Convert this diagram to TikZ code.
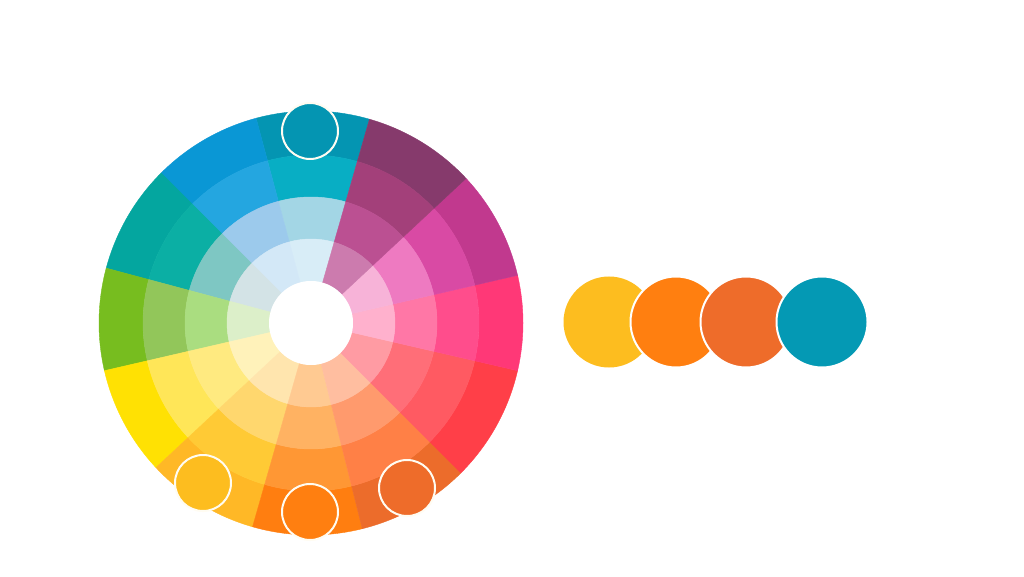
\documentclass[tikz,border=0pt]{standalone}
\usepackage{tikz}
\definecolor{aA1}{HTML}{0495B2}\definecolor{aA2}{HTML}{08AEC4}\definecolor{aA3}{HTML}{A3D6E5}\definecolor{aA4}{HTML}{D8EDF7}
\definecolor{aB1}{HTML}{0A97D5}\definecolor{aB2}{HTML}{24A6E0}\definecolor{aB3}{HTML}{9CCAEC}\definecolor{aB4}{HTML}{D3E8F7}
\definecolor{aC1}{HTML}{04A69F}\definecolor{aC2}{HTML}{0BAFA4}\definecolor{aC3}{HTML}{7EC7C3}\definecolor{aC4}{HTML}{D3E3E6}
\definecolor{aD1}{HTML}{77BD1F}\definecolor{aD2}{HTML}{92C65A}\definecolor{aD3}{HTML}{AADD80}\definecolor{aD4}{HTML}{DCEFC9}
\definecolor{aE1}{HTML}{FFE103}\definecolor{aE2}{HTML}{FFE658}\definecolor{aE3}{HTML}{FFEA80}\definecolor{aE4}{HTML}{FFF2BA}
\definecolor{aF1}{HTML}{FFB826}\definecolor{aF2}{HTML}{FFCA35}\definecolor{aF3}{HTML}{FFD76E}\definecolor{aF4}{HTML}{FFE5AE}
\definecolor{aG1}{HTML}{FF7E10}\definecolor{aG2}{HTML}{FF9734}\definecolor{aG3}{HTML}{FFB262}\definecolor{aG4}{HTML}{FFCA92}
\definecolor{aH1}{HTML}{EC6C2B}\definecolor{aH2}{HTML}{FF8046}\definecolor{aH3}{HTML}{FF9A6D}\definecolor{aH4}{HTML}{FFBEA0}
\definecolor{aI1}{HTML}{FF3F48}\definecolor{aI2}{HTML}{FF5A62}\definecolor{aI3}{HTML}{FF6E78}\definecolor{aI4}{HTML}{FF9BA3}
\definecolor{aJ1}{HTML}{FF3877}\definecolor{aJ2}{HTML}{FF4D8C}\definecolor{aJ3}{HTML}{FF77A6}\definecolor{aJ4}{HTML}{FFB1CD}
\definecolor{aK1}{HTML}{C1398E}\definecolor{aK2}{HTML}{D94AA4}\definecolor{aK3}{HTML}{EE7AC1}\definecolor{aK4}{HTML}{F7B3D8}
\definecolor{aL1}{HTML}{863A6C}\definecolor{aL2}{HTML}{A3407A}\definecolor{aL3}{HTML}{BB5092}\definecolor{aL4}{HTML}{CC7BAE}
\definecolor{cYel}{HTML}{FDBD1F}\definecolor{cOra}{HTML}{FF7F10}\definecolor{cRed}{HTML}{EE6C2A}\definecolor{cTeal}{HTML}{0499B4}
\definecolor{ring}{HTML}{FFFCF2}
\newcommand\wcell[5]{\fill[#5, draw=#5, line width=0.4pt] (#1:#3) arc[start angle=#1, end angle=#2, radius=#3] -- (#2:#4) arc[start angle=#2, end angle=#1, radius=#4] -- cycle;}
\newcommand\wseg[3]{%
  \wcell{#1}{#2}{212}{168}{a#31}%
  \wcell{#1}{#2}{168}{126}{a#32}%
  \wcell{#1}{#2}{126}{84}{a#33}%
  \wcell{#1}{#2}{84}{42}{a#34}}
\begin{document}
\begin{tikzpicture}[x=1pt,y=1pt,
  dot/.style={circle, draw=ring, line width=2pt, inner sep=0pt, minimum size=56pt},
  big/.style={circle, draw=white, line width=2pt, inner sep=0pt, minimum size=91pt}]
\fill[white] (0,0) rectangle (1024,576);
\useasboundingbox (0,0) rectangle (1024,576);
\begin{scope}[shift={(311,253)}]
\wseg{74}{105}{A}
\wseg{105}{135}{B}
\wseg{135}{165}{C}
\wseg{165}{193}{D}
\wseg{193}{223}{E}
\wseg{223}{254}{F}
\wseg{254}{284}{G}
\wseg{284}{315}{H}
\wseg{315}{347}{I}
\wseg{347}{373}{J}
\wseg{13}{43}{K}
\wseg{43}{74}{L}
\fill[white] (0,0) circle[radius=42];
\end{scope}
\node[dot, fill=aA1] (ptop) at (310,445) {};
\node[dot, fill=cYel] (pyel) at (203,93) {};
\node[dot, fill=cOra] (pora) at (310,64) {};
\node[dot, fill=cRed] (pred) at (407,88) {};
\node[big, draw=none, fill=cYel] (s1) at (609,254) {};
\node[big, fill=cOra] (s2) at (676,254) {};
\node[big, fill=cRed] (s3) at (746,254) {};
\node[big, fill=cTeal] (s4) at (822,254) {};
\end{tikzpicture}
\end{document}
